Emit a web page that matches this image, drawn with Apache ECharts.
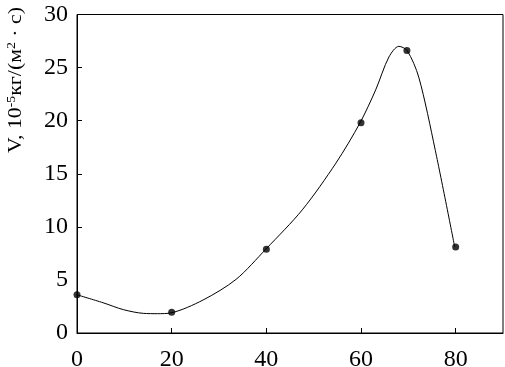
<!DOCTYPE html>
<html>
<head>
<meta charset="utf-8">
<script src="https://cdn.jsdelivr.net/npm/echarts@6/dist/echarts.min.js"></script>
<style>
  html, body { margin: 0; padding: 0; background: #fff; }
  #chart { width: 505px; height: 367px; }
</style>
</head>
<body>
<div id="chart"></div>
<script>
// точки измерений
var xValues = [0, 20, 40, 60, 69.7, 80];
var yValues = [3.6, 1.95, 7.9, 19.8, 26.6, 8.1];
// сглаживающая кривая
var curveX = [0, 5.5, 9.8, 14, 17, 19.9, 26.6, 33.6, 39.9, 47.6, 54.7, 59.8, 63.1, 65.9, 68.0, 69.75, 72.2, 75.7, 79.8];
var curveY = [3.6, 2.85, 2.2, 1.85, 1.82, 1.9, 3.1, 5.05, 7.9, 11.6, 16.0, 19.8, 22.9, 26.0, 27.0, 26.6, 24.1, 17.2, 8.1];
// подписи осей
var xTicks = [0, 20, 40, 60, 80];
var yTicks = [0, 5, 10, 15, 20, 25, 30];
var yTickMarks = [10, 15, 20, 25];

var points = xValues.map(function (x, i) { return [x, yValues[i]]; });
var curve = curveX.map(function (x, i) { return [x, curveY[i]]; });
var font = 'Liberation Serif';

var myChart = echarts.init(document.getElementById('chart'));
var option = {
    animation: false,
    backgroundColor: '#fff',
    grid: {
        left: 77, right: 2, top: 14.5, bottom: 34,
        outerBoundsMode: 'none',
        containLabel: false,
        show: true, borderColor: '#000', borderWidth: 1
    },
    xAxis: {
        type: 'value', min: 0, max: 90,
        axisLine: { show: true, lineStyle: { color: '#000', width: 1 } },
        axisTick: { show: true, inside: true, length: 5, customValues: [20, 40, 60, 80], lineStyle: { color: '#000' } },
        splitLine: { show: false },
        axisLabel: {
            color: '#000', fontFamily: font, fontSize: 24, margin: 15,
            customValues: xTicks
        }
    },
    yAxis: {
        type: 'value', min: 0, max: 30,
        axisLine: { show: true, lineStyle: { color: '#000', width: 1 } },
        axisTick: { show: true, inside: true, length: 5, customValues: yTickMarks, lineStyle: { color: '#000' } },
        splitLine: { show: false },
        axisLabel: {
            color: '#000', fontFamily: font, fontSize: 24, margin: 9,
            customValues: yTicks
        }
    },
    graphic: [{
        type: 'text',
        x: 16, y: 153,
        rotation: Math.PI / 2,
        scaleX: 1.15,
        style: {
            text: 'V, 10{sup|-5}кг/(м{sup|2} · с)',
            font: '19px "Liberation Serif"',
            fill: '#000',
            textAlign: 'left',
            textVerticalAlign: 'middle',
            rich: {
                sup: { fontSize: 12, fontFamily: font, fill: '#000', padding: [0, 0, 9, 0] }
            }
        }
    }],
    series: [{
        type: 'line',
        data: curve,
        smooth: 0.3,
        symbol: 'none',
        lineStyle: { color: '#000', width: 1 },
        z: 2
    }, {
        type: 'scatter',
        data: points,
        symbol: 'circle',
        symbolSize: 7,
        itemStyle: { color: '#000' },
        z: 3
    }]
};
myChart.setOption(option, true);
</script>
</body>
</html>
